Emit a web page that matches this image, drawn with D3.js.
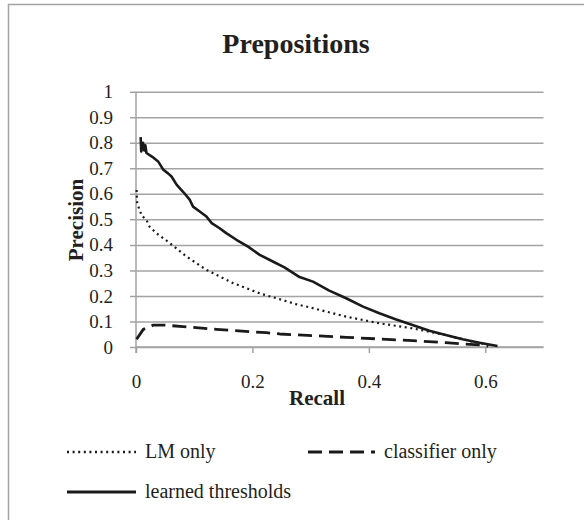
<!DOCTYPE html>
<html>
<head>
<meta charset="utf-8">
<script src="https://cdn.jsdelivr.net/npm/d3@7"></script>
<style>
  body { margin: 0; background: #fff; }
  text { font-family: "Liberation Serif", "Times New Roman", serif; fill: #231f20; }
</style>
</head>
<body>
<div id="chart"></div>
<script>
// recall / precision points
var lmOnly = [
  [0.001, 0.615], [0.002, 0.565], [0.006, 0.537], [0.010, 0.514], [0.018, 0.498],
  [0.023, 0.472], [0.035, 0.446], [0.058, 0.407], [0.087, 0.354], [0.121, 0.302],
  [0.167, 0.25], [0.2125, 0.21], [0.247, 0.187], [0.275, 0.168], [0.304, 0.152],
  [0.361, 0.119], [0.418, 0.093], [0.475, 0.073], [0.532, 0.047], [0.578, 0.021],
  [0.612, 0.005]
];
var classifierOnly = [
  [0.001, 0.03], [0.0125, 0.069], [0.03, 0.086], [0.047, 0.086], [0.081, 0.08],
  [0.138, 0.069], [0.224, 0.056], [0.247, 0.051], [0.361, 0.038], [0.475, 0.025],
  [0.532, 0.017], [0.59, 0.008], [0.605, 0.003]
];
var learnedThresholds = [
  [0.008, 0.822], [0.009, 0.766], [0.012, 0.80], [0.014, 0.77], [0.016, 0.79],
  [0.018, 0.76], [0.028, 0.745], [0.038, 0.727], [0.047, 0.694], [0.055, 0.68],
  [0.061, 0.668], [0.070, 0.635], [0.082, 0.605], [0.0925, 0.576], [0.098, 0.55],
  [0.11, 0.53], [0.121, 0.511], [0.13, 0.485], [0.143, 0.466], [0.155, 0.446],
  [0.1725, 0.42], [0.1925, 0.393], [0.2125, 0.361], [0.235, 0.335], [0.255, 0.312],
  [0.281, 0.274], [0.304, 0.256], [0.332, 0.221], [0.361, 0.191], [0.39, 0.158],
  [0.418, 0.132], [0.447, 0.108], [0.475, 0.086], [0.504, 0.064], [0.532, 0.047],
  [0.561, 0.030], [0.59, 0.017], [0.621, 0.004]
];
var xTicks = [0, 0.2, 0.4, 0.6];
var yTicks = [0, 0.1, 0.2, 0.3, 0.4, 0.5, 0.6, 0.7, 0.8, 0.9, 1];
var seriesNames = ["LM only", "classifier only", "learned thresholds"];

var width = 584, height = 520;
var grid = "#a3a3a3", ink = "#1a1a1a";

var svg = d3.select("#chart").append("svg")
  .attr("width", width)
  .attr("height", height);

// outer frame (only left and top edges are visible)
svg.append("path")
  .attr("d", "M8.5,520 V4.5 H584")
  .attr("fill", "none")
  .attr("stroke", grid)
  .attr("stroke-width", 1.5);

var x = d3.scaleLinear().domain([0, 0.7]).range([136, 543.5]);
var y = d3.scaleLinear().domain([0, 1]).range([347, 91.7]);

// horizontal gridlines, they poke out 6px left of the axis as ticks
var yAxis = d3.axisLeft(y).tickValues(yTicks)
  .tickSize(-(x(0.7) - x(0)))
  .tickPadding(23)
  .tickFormat(function(d) { return d === 0 || d === 1 ? d : d3.format(".1f")(d); });
var gy = svg.append("g").attr("transform", "translate(" + x(0) + ",0)").call(yAxis);
gy.select(".domain").remove();
gy.selectAll("line").attr("stroke", grid).attr("stroke-width", 1.5).attr("x1", -6);
gy.selectAll("text").attr("font-size", 19).attr("fill", "#231f20")
  .attr("font-family", "Liberation Serif");

var xAxis = d3.axisBottom(x).tickValues(xTicks).tickSize(6).tickPadding(22)
  .tickFormat(function(d) { return d === 0 ? "0" : d3.format(".1f")(d); });
var gx = svg.append("g").attr("transform", "translate(0," + y(0) + ")").call(xAxis);
gx.select(".domain").attr("stroke", grid).attr("stroke-width", 1.5)
  .attr("d", "M" + x(0) + ",0H" + x(0.7));
gx.selectAll("line").attr("stroke", grid).attr("stroke-width", 1.5);
gx.selectAll("text").attr("font-size", 19).attr("fill", "#231f20")
  .attr("font-family", "Liberation Serif");

// y axis line
svg.append("line")
  .attr("x1", x(0)).attr("x2", x(0))
  .attr("y1", y(1)).attr("y2", y(0) + 6)
  .attr("stroke", grid).attr("stroke-width", 1.5);

// titles
svg.append("text").attr("x", 296).attr("y", 53)
  .attr("text-anchor", "middle").attr("font-size", 28).attr("font-weight", "bold")
  .text("Prepositions");
svg.append("text").attr("x", 317).attr("y", 405)
  .attr("text-anchor", "middle").attr("font-size", 21).attr("font-weight", "bold")
  .text("Recall");
svg.append("text")
  .attr("transform", "translate(83,220) rotate(-90)")
  .attr("text-anchor", "middle").attr("font-size", 21).attr("font-weight", "bold")
  .text("Precision");

var line = d3.line()
  .x(function(d) { return x(d[0]); })
  .y(function(d) { return y(d[1]); });

var styles = [
  { data: lmOnly, dash: "2,3.6", w: 2.2 },
  { data: classifierOnly, dash: "14,7", w: 2.8 },
  { data: learnedThresholds, dash: null, w: 2.6 }
];

styles.forEach(function(s) {
  svg.append("path")
    .attr("d", line(s.data))
    .attr("fill", "none")
    .attr("stroke", ink)
    .attr("stroke-width", s.w)
    .attr("stroke-linejoin", "round")
    .attr("stroke-dasharray", s.dash);
});

// legend
var legendPos = [[67, 452], [308, 452], [67, 492]];
seriesNames.forEach(function(name, i) {
  var p = legendPos[i], s = styles[i];
  var len = i === 1 ? 67 : 69;
  svg.append("line")
    .attr("x1", p[0]).attr("x2", p[0] + len)
    .attr("y1", p[1]).attr("y2", p[1])
    .attr("stroke", ink)
    .attr("stroke-width", s.w + 0.3)
    .attr("stroke-dasharray", s.dash);
  svg.append("text")
    .attr("x", p[0] + len + 9).attr("y", p[1] + 6)
    .attr("font-size", 20)
    .text(name);
});
</script>
</body>
</html>
